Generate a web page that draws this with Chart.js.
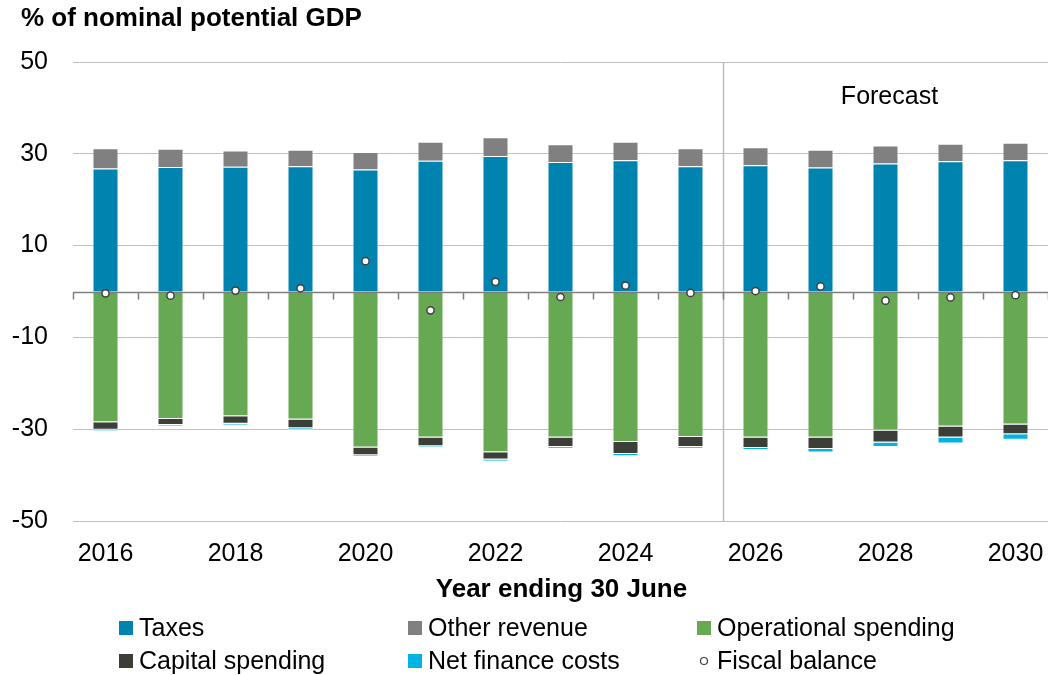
<!DOCTYPE html>
<html>
<head>
<meta charset="utf-8">
<script src="https://cdn.jsdelivr.net/npm/chart.js@4"></script>
<style>
  html, body { margin: 0; padding: 0; background: #fff; }
  #wrap { width: 1048px; height: 675px; }
</style>
</head>
<body>
<div id="wrap"><canvas id="fiscal" width="1048" height="675"></canvas></div>
<script>
// Fiscal aggregates, % of nominal potential GDP, year ending 30 June
const years = ['2016', '2017', '2018', '2019', '2020', '2021', '2022', '2023', '2024', '2025', '2026', '2027', '2028', '2029', '2030'];
const taxes = [26.8, 27.1, 27.2, 27.3, 26.6, 28.5, 29.5, 28.2, 28.6, 27.3, 27.5, 27.0, 27.9, 28.4, 28.6];
const otherRevenue = [4.4, 4.0, 3.5, 3.6, 3.8, 4.1, 4.1, 3.9, 4.0, 3.9, 3.9, 3.9, 3.9, 3.8, 3.8];
const operationalSpending = [-28.5, -27.8, -27.2, -27.9, -34.0, -31.8, -35.0, -31.8, -32.8, -31.7, -31.8, -31.8, -30.3, -29.4, -29.0];
const capitalSpending = [-1.6, -1.3, -1.6, -1.9, -1.7, -1.9, -1.6, -2.1, -2.6, -2.2, -2.3, -2.5, -2.6, -2.4, -2.1];
const netFinanceCosts = [-0.3, -0.2, -0.3, -0.3, -0.3, -0.3, -0.4, -0.3, -0.5, -0.3, -0.4, -0.8, -1.0, -1.3, -1.2];
const fiscalBalance = [-0.4, -0.9, 0.2, 0.7, 6.6, -4.1, 2.1, -1.2, 1.3, -0.3, 0.1, 1.1, -2.0, -1.3, -0.8];
const yTicks = [-50, -30, -10, 10, 30, 50];
const forecastFrom = '2026';

const FONT = "'Liberation Sans', Arial, sans-serif";
Chart.defaults.font.family = FONT;
Chart.defaults.font.size = 25;
Chart.defaults.color = '#000';

const bar = (label, data, color) => ({
  type: 'bar', label, data, backgroundColor: color,
  borderColor: 'rgba(255,255,255,0.55)', borderWidth: 1,
  barPercentage: 0.4, categoryPercentage: 1, order: 1
});

// axis decorations, headings and the three-column key
const decor = {
  id: 'decor',
  beforeDatasetsDraw(chart) {
    const { ctx, chartArea: a, scales: { x } } = chart;
    const fx = Math.round(x.getPixelForValue(years.indexOf(forecastFrom) - 0.5)) + 0.5;
    ctx.save();
    ctx.strokeStyle = '#bdbdbd';
    ctx.lineWidth = 1.5;
    ctx.beginPath();
    ctx.moveTo(fx, a.top);
    ctx.lineTo(fx, a.bottom);
    ctx.stroke();
    ctx.restore();
  },
  beforeDatasetDraw(chart, args) {
    if (chart.data.datasets[args.index].type !== 'line') return;
    const { ctx, chartArea: a, scales: { x, y } } = chart;
    const y0 = Math.round(y.getPixelForValue(0)) + 0.5;
    ctx.save();
    ctx.strokeStyle = '#7f7f7f';
    ctx.lineWidth = 1.5;
    ctx.beginPath();
    ctx.moveTo(a.left, y0);
    ctx.lineTo(a.right, y0);
    for (let i = 0; i <= years.length; i++) {
      const tx = Math.round(x.getPixelForValue(i - 0.5)) + 0.5;
      ctx.moveTo(tx, y0);
      ctx.lineTo(tx, y0 + 7);
    }
    ctx.stroke();
    ctx.restore();
  },
  afterDraw(chart) {
    const { ctx, chartArea: a, scales: { x } } = chart;
    ctx.save();
    ctx.fillStyle = '#000';
    ctx.textBaseline = 'alphabetic';

    ctx.font = 'bold 26px ' + FONT;
    ctx.textAlign = 'left';
    ctx.fillText('% of nominal potential GDP', 21, 26);

    ctx.textAlign = 'center';
    ctx.fillText('Year ending 30 June', (a.left + a.right) / 2 + 1, 597);

    ctx.font = '25px ' + FONT;
    const fx = x.getPixelForValue(years.indexOf(forecastFrom) - 0.5);
    ctx.fillText('Forecast', (fx + a.right) / 2 + 4, 104);

    ctx.textAlign = 'left';
    chart.data.datasets.forEach((ds, i) => {
      const col = i % 3, row = Math.floor(i / 3);
      const bx = 119 + col * 289;
      const base = 636 + row * 33;
      if (ds.type === 'line') {
        ctx.beginPath();
        ctx.arc(bx + 7, base - 8, 3.5, 0, Math.PI * 2);
        ctx.fillStyle = '#fff';
        ctx.fill();
        ctx.strokeStyle = '#404040';
        ctx.lineWidth = 1.2;
        ctx.stroke();
      } else {
        ctx.fillStyle = ds.backgroundColor;
        ctx.fillRect(bx, base - 15, 14, 14);
      }
      ctx.fillStyle = '#000';
      ctx.fillText(ds.label, bx + 20, base);
    });
    ctx.restore();
  }
};

new Chart(document.getElementById('fiscal'), {
  data: {
    labels: years,
    datasets: [
      bar('Taxes', taxes, '#0083ae'),
      bar('Other revenue', otherRevenue, '#808080'),
      bar('Operational spending', operationalSpending, '#67a853'),
      bar('Capital spending', capitalSpending, '#3c3f38'),
      bar('Net finance costs', netFinanceCosts, '#00b3e2'),
      {
        type: 'line', label: 'Fiscal balance', data: fiscalBalance, stack: 'balance',
        showLine: false, pointStyle: 'circle', pointRadius: 3.6,
        pointBackgroundColor: '#fff', pointBorderColor: '#404040', pointBorderWidth: 1.5,
        order: 0
      }
    ]
  },
  options: {
    responsive: false,
    animation: false,
    devicePixelRatio: 1,
    layout: { autoPadding: false, padding: { top: 62, right: 0, bottom: 0, left: 0 } },
    plugins: { legend: { display: false }, tooltip: { enabled: false } },
    scales: {
      x: {
        stacked: true,
        grid: { display: false },
        border: { display: false },
        ticks: {
          autoSkip: false, maxRotation: 0, minRotation: 0, padding: 10,
          callback: (v, i) => (i % 2 === 0 ? years[i] : '')
        },
        afterFit: s => { s.height = 154; s.paddingLeft = 0; s.paddingRight = 0; }
      },
      y: {
        stacked: true,
        min: -50, max: 50,
        afterBuildTicks: s => { s.ticks = yTicks.map(v => ({ value: v })); },
        grid: { color: '#bfbfbf', lineWidth: 1, drawTicks: false },
        border: { display: false },
        ticks: { padding: 25 },
        afterFit: s => { s.width = 73; s.paddingTop = 0; s.paddingBottom = 0; }
      }
    }
  },
  plugins: [decor]
});
</script>
</body>
</html>
